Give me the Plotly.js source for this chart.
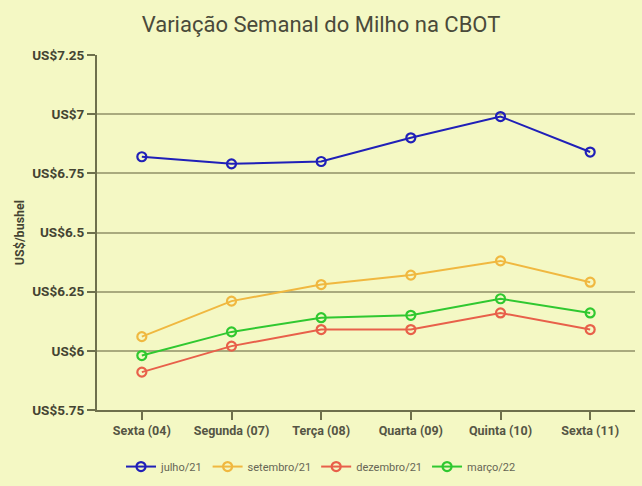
<!DOCTYPE html>
<html><head><meta charset="utf-8">
<script src="https://cdn.plot.ly/plotly-3.0.1.min.js"></script>
<style>html,body{margin:0;padding:0;background:#f4f8c4;}</style>
</head><body>
<div id="chart" style="width:642px;height:486px;"></div>
<script>
const categories = ["Sexta (04)", "Segunda (07)", "Terça (08)", "Quarta (09)", "Quinta (10)", "Sexta (11)"];
const julho21 = [6.82, 6.79, 6.80, 6.90, 6.99, 6.84];
const setembro21 = [6.06, 6.21, 6.28, 6.32, 6.38, 6.29];
const dezembro21 = [5.91, 6.02, 6.09, 6.09, 6.16, 6.09];
const marco22 = [5.98, 6.08, 6.14, 6.15, 6.22, 6.16];
const seriesNames = ["julho/21", "setembro/21", "dezembro/21", "março/22"];
const seriesColors = ["#2020b8", "#f0b840", "#e8604a", "#30c830"];
const yTickVals = [5.75, 6, 6.25, 6.5, 6.75, 7, 7.25];
const yTickText = ["US$5.75", "US$6", "US$6.25", "US$6.5", "US$6.75", "US$7", "US$7.25"];

const allData = [julho21, setembro21, dezembro21, marco22];
const traces = allData.map((vals, i) => ({
  x: categories, y: vals, name: seriesNames[i], type: "scatter", mode: "lines+markers",
  line: {color: seriesColors[i], width: 2},
  marker: {symbol: "circle-open", size: 9, color: seriesColors[i], line: {width: 2.2, color: seriesColors[i]}}
}));

const bg = "#f4f8c4";
const fnt = "Roboto, Liberation Sans, sans-serif";
const layout = {
  width: 642, height: 486,
  paper_bgcolor: bg, plot_bgcolor: bg,
  margin: {l: 97, r: 7, t: 55, b: 76},
  title: {text: "Variação Semanal do Milho na CBOT", x: 0.5, xanchor: "center", y: 0.95, yanchor: "middle",
    font: {family: fnt, size: 22, color: "#4a4a3a"}},
  xaxis: {type: "category", range: [-0.5, 5.5], showgrid: false, showline: true, linecolor: "#6e704c", linewidth: 2,
    ticks: "outside", ticklen: 8, tickwidth: 2, tickcolor: "#6e704c", zeroline: false,
    tickfont: {family: fnt, size: 12.5, color: "#555544", weight: "bold"}},
  yaxis: {range: [5.75, 7.25], tickvals: yTickVals, ticktext: yTickText, showgrid: true, gridcolor: "#a9aa7e", gridwidth: 2,
    showline: true, linecolor: "#6e704c", linewidth: 2, ticks: "outside", ticklen: 8, tickwidth: 2, tickcolor: "#6e704c",
    zeroline: false,
    tickfont: {family: fnt, size: 13.5, color: "#444433", weight: "bold"},
    title: {text: "US$/bushel", standoff: 5, font: {family: fnt, size: 12.5, color: "#444433", weight: "bold"}}},
  legend: {orientation: "h", x: 0.5, xanchor: "center", xref: "container", yref: "container", y: 0.04, yanchor: "middle",
    itemwidth: 30, font: {family: fnt, size: 11, color: "#666655"}, bgcolor: "rgba(0,0,0,0)"},
  showlegend: true
};
Plotly.newPlot("chart", traces, layout, {displayModeBar: false, staticPlot: true});
</script>
</body></html>
